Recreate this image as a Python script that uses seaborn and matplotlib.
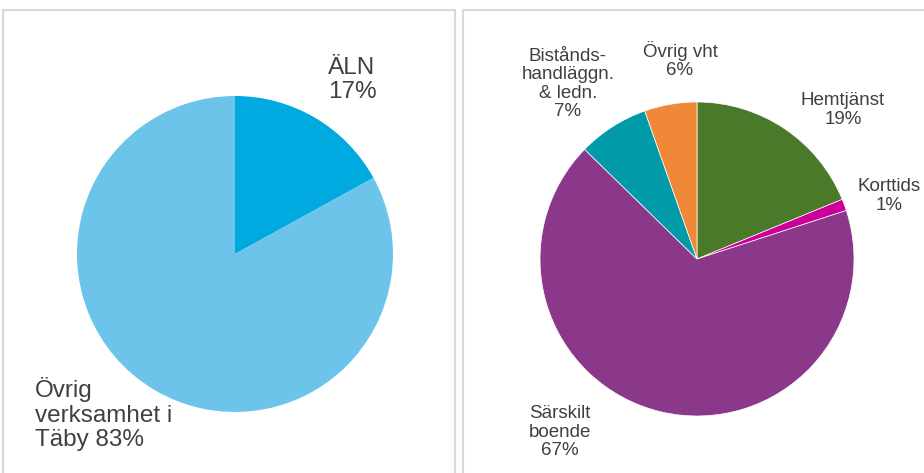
import matplotlib.pyplot as plt
import seaborn as sns

# Left pie: share of ÄLN in Täby
left_labels = ['ÄLN\n17%', 'Övrig\nverksamhet i\nTäby 83%']
left_values = [17, 83]
left_colors = ['#00A9E0', '#6CC4EA']

# Right pie: ÄLN broken down by activity
right_labels = ['Hemtjänst\n19%', 'Korttids\n1%', 'Särskilt\nboende\n67%',
                'Bistånds-\nhandläggn.\n& ledn.\n7%', 'Övrig vht\n6%']
right_values = [18.8, 1.2, 67.3, 7.3, 5.4]
right_colors = ['#4A7A29', '#CC0099', '#8B388B', '#009AA8', '#F08838']

sns.set_theme(style='white')
plt.rcParams['font.family'] = ['Liberation Sans', 'DejaVu Sans']
txt = '#404040'

fig = plt.figure(figsize=(9.24, 4.73), dpi=100)

# panel frames
fig.add_artist(plt.Rectangle((3 / 924, -0.1), 452 / 924, 1.1 - 10 / 473,
                             transform=fig.transFigure, fill=False,
                             ec='#d9d9d9', lw=1.5))
fig.add_artist(plt.Rectangle((463 / 924, -0.1), 0.6, 1.1 - 10 / 473,
                             transform=fig.transFigure, fill=False,
                             ec='#d9d9d9', lw=1.5))

# left panel: centre (235, 254) px, radius 158 px
ax1 = fig.add_axes([0, 0, 462 / 924, 1])
ax1.pie(left_values, colors=left_colors, startangle=90, counterclock=False,
        wedgeprops=dict(linewidth=0))
r = 158
ax1.set_xlim(-235 / r, (462 - 235) / r)
ax1.set_ylim((254 - 473) / r, 254 / r)
ax1.set_aspect('equal')
ax1.axis('off')
ax1.text((328 - 235) / r, (254 - 80) / r, left_labels[0], ha='left',
         va='center', fontsize=17.5, color=txt, linespacing=1.15)
ax1.text((35 - 235) / r, (254 - 414) / r, left_labels[1], ha='left',
         va='center', fontsize=17.5, color=txt, linespacing=1.15)

# right panel: centre (697, 259) px, radius 157 px
ax2 = fig.add_axes([462 / 924, 0, 462 / 924, 1])
ax2.pie(right_values, colors=right_colors, startangle=90, counterclock=False,
        wedgeprops=dict(linewidth=0.5, edgecolor='white'))
r = 157
ax2.set_xlim((462 - 697) / r, (924 - 697) / r)
ax2.set_ylim((259 - 473) / r, 259 / r)
ax2.set_aspect('equal')
ax2.axis('off')
label_pos = [(843, 110), (889, 196), (560, 432), (568, 84), (680, 60)]
for lab, (px, py) in zip(right_labels, label_pos):
    ax2.text((px - 697) / r, (259 - py) / r, lab, ha='center', va='center',
             fontsize=13.5, color=txt, linespacing=1.1)

fig.savefig('out.png', dpi=100)
